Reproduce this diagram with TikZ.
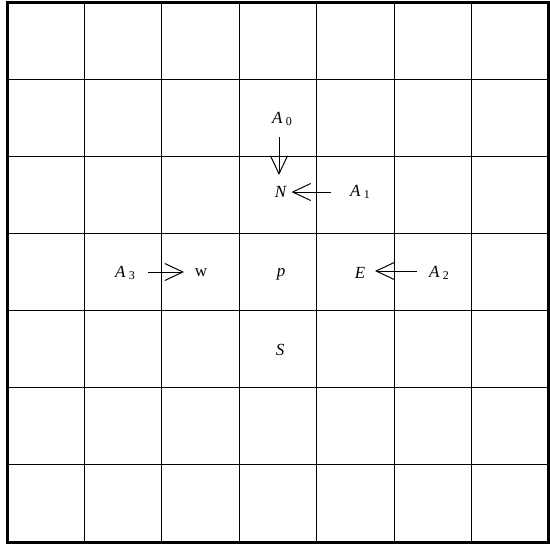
\documentclass[tikz,border=0pt]{standalone}
\usepackage{fontspec}
\setmainfont{Liberation Serif}
\usetikzlibrary{arrows.meta}
\newcommand{\lbl}[2]{\textit{#1}\raisebox{-0.35ex}{\fontsize{12}{13}\selectfont\hspace{3.5pt}#2}}
\begin{document}
\begin{tikzpicture}[x=1pt,y=-1pt,
  gridline/.style={line width=1.1pt},
  frame/.style={line width=3pt},
  lab/.style={font=\fontsize{17}{20}\selectfont, inner sep=1pt},
  arr/.style={line width=1pt, -{Straight Barb[length=18pt,width=17pt,line width=1pt]}}]
\useasboundingbox (0,0) rectangle (550,544);
\foreach \i in {1,...,6} {
  \draw[gridline] ({7+\i*77.43},2) -- ({7+\i*77.43},542);
  \draw[gridline] (7,{2+\i*77.14}) -- (549,{2+\i*77.14});
}
\draw[frame] (7,2) rectangle (548.5,542);
% labels
\node[lab] (A0) at (282,119) {\lbl{A}{0}};
\node[lab] (N) at (281,192) {\textit{N}};
\node[lab] (A1) at (360,192) {\lbl{A}{1}};
\node[lab] (A3) at (125,273) {\lbl{A}{3}};
\node[lab] (W) at (201,273) {w};
\node[lab] (P) at (281,274) {\textit{p}};
\node[lab] (E) at (360,273) {\textit{E}};
\node[lab] (A2) at (439,273) {\lbl{A}{2}};
\node[lab] (S) at (280,350) {\textit{S}};
% arrows
\coordinate (a0s) at (279,137);
\coordinate (a0e) at (279,175);
\draw[arr] (a0s) -- (a0e);
\coordinate (a1s) at (331,192);
\coordinate (a1e) at (291.5,192);
\draw[arr] (a1s) -- (a1e);
\coordinate (a3s) at (148,272);
\coordinate (a3e) at (184,272);
\draw[arr] (a3s) -- (a3e);
\coordinate (a2s) at (417,271);
\coordinate (a2e) at (375,271);
\draw[arr] (a2s) -- (a2e);
\end{tikzpicture}
\end{document}
